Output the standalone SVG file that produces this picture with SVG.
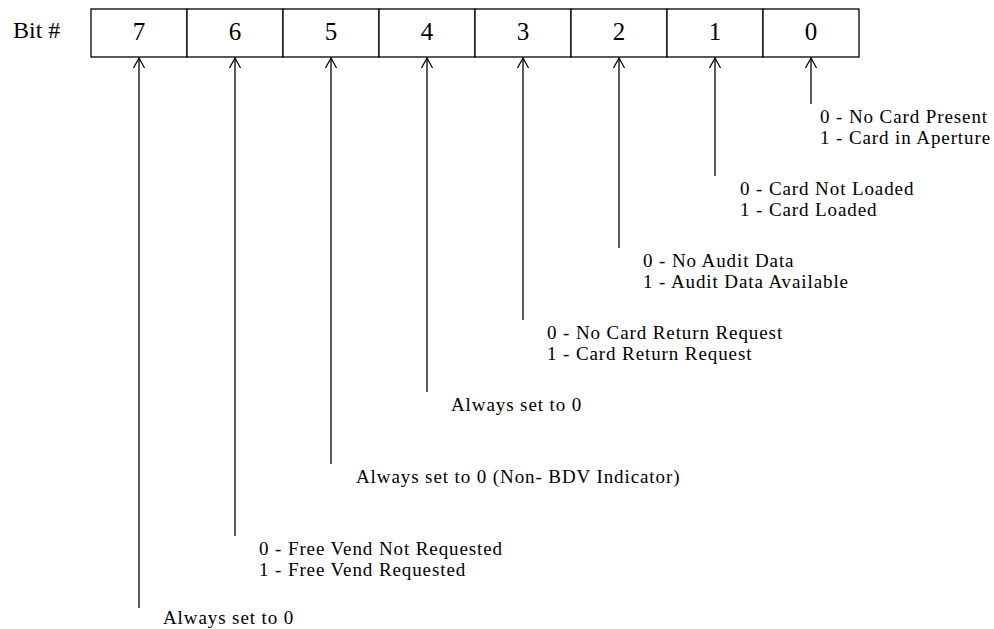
<svg xmlns="http://www.w3.org/2000/svg" width="994" height="629" viewBox="0 0 994 629">
<style>
text{font-family:"Liberation Serif","Times New Roman",serif;fill:#000}
.hd{font-size:24px}
.num{font-size:25px;text-anchor:middle}
.lb{font-size:19px;letter-spacing:0.9px}
.cell{fill:#fff;stroke:#000;stroke-width:1.3}
.ln{stroke:#000;stroke-width:1.3;fill:none}
</style>
<defs>
<marker id="ah" markerWidth="14" markerHeight="14" refX="12" refY="7" orient="auto" markerUnits="userSpaceOnUse" viewBox="0 0 14 14">
<path d="M2,1.5 L12,7 L2,12.5" fill="none" stroke="#000" stroke-width="1.3"/>
</marker>
</defs>
<text class="hd" x="13" y="38">Bit #</text>
<g id="register">
<g id="b7"><rect class="cell" x="91" y="9" width="96" height="48"/><text class="num" x="139" y="40">7</text></g>
<g id="b6"><rect class="cell" x="187" y="9" width="96" height="48"/><text class="num" x="235" y="40">6</text></g>
<g id="b5"><rect class="cell" x="283" y="9" width="96" height="48"/><text class="num" x="331" y="40">5</text></g>
<g id="b4"><rect class="cell" x="379" y="9" width="96" height="48"/><text class="num" x="427" y="40">4</text></g>
<g id="b3"><rect class="cell" x="475" y="9" width="96" height="48"/><text class="num" x="523" y="40">3</text></g>
<g id="b2"><rect class="cell" x="571" y="9" width="96" height="48"/><text class="num" x="619" y="40">2</text></g>
<g id="b1"><rect class="cell" x="667" y="9" width="96" height="48"/><text class="num" x="715" y="40">1</text></g>
<g id="b0"><rect class="cell" x="763" y="9" width="96" height="48"/><text class="num" x="811" y="40">0</text></g>
</g>
<g id="connectors">
<line class="ln" x1="811" y1="104" x2="811" y2="58" marker-end="url(#ah)"/>
<line class="ln" x1="715" y1="176" x2="715" y2="58" marker-end="url(#ah)"/>
<line class="ln" x1="619" y1="248" x2="619" y2="58" marker-end="url(#ah)"/>
<line class="ln" x1="523" y1="320" x2="523" y2="58" marker-end="url(#ah)"/>
<line class="ln" x1="427" y1="392" x2="427" y2="58" marker-end="url(#ah)"/>
<line class="ln" x1="331" y1="464" x2="331" y2="58" marker-end="url(#ah)"/>
<line class="ln" x1="235" y1="536" x2="235" y2="58" marker-end="url(#ah)"/>
<line class="ln" x1="139" y1="608" x2="139" y2="58" marker-end="url(#ah)"/>
</g>
<g id="labels">
<g id="l0"><text class="lb" x="820" y="123">0 - No Card Present</text><text class="lb" x="820" y="144">1 - Card in Aperture</text></g>
<g id="l1"><text class="lb" x="740" y="195">0 - Card Not Loaded</text><text class="lb" x="740" y="216">1 - Card Loaded</text></g>
<g id="l2"><text class="lb" x="643" y="267">0 - No Audit Data</text><text class="lb" x="643" y="288">1 - Audit Data Available</text></g>
<g id="l3"><text class="lb" x="547" y="339">0 - No Card Return Request</text><text class="lb" x="547" y="360">1 - Card Return Request</text></g>
<g id="l4"><text class="lb" x="451" y="411">Always set to 0</text></g>
<g id="l5"><text class="lb" x="356" y="483">Always set to 0 (Non- BDV Indicator)</text></g>
<g id="l6"><text class="lb" x="259" y="555">0 - Free Vend Not Requested</text><text class="lb" x="259" y="576">1 - Free Vend Requested</text></g>
<g id="l7"><text class="lb" x="163" y="624">Always set to 0</text></g>
</g>
</svg>
